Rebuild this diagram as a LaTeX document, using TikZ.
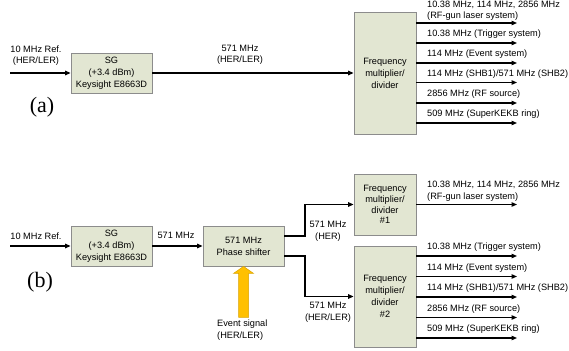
\documentclass[tikz,border=0pt]{standalone}
\usepackage{fontspec}
\setmainfont{Liberation Sans}
\newfontfamily\serifl{Liberation Serif}
\usetikzlibrary{arrows.meta,calc,positioning}
\definecolor{boxfill}{HTML}{E2E6D2}
\definecolor{boxdraw}{HTML}{8C8C8C}
\definecolor{evtfill}{HTML}{FFC000}
\definecolor{evtdraw}{HTML}{D9A300}
\tikzset{
  blk/.style={draw=boxdraw, fill=boxfill, line width=0.8pt, inner sep=0pt, align=center,
    font=\fontsize{9.2}{12}\selectfont},
  sig/.style={line width=1.2pt, -{Triangle[length=5.5pt,width=4.5pt]}},
  wire/.style={line width=1.2pt},
  lbl/.style={inner sep=0pt, align=center, font=\fontsize{9.2}{11.5}\selectfont},
  olbl/.style={inner sep=0pt, anchor=west, align=left, font=\fontsize{9.2}{11.5}\selectfont},
  tag/.style={inner sep=0pt, font=\serifl\fontsize{22}{24}\selectfont},
  evt/.style={draw=evtdraw, fill=evtfill, line width=0.5pt}
}
\begin{document}
\begin{tikzpicture}[x=1pt,y=-1pt]
\useasboundingbox (0,0) rectangle (569,350);
% ---------- (a) ----------
\node[blk, minimum width=81pt, minimum height=40pt] (sgA) at (111.5,73) {SG\\(+3.4 dBm)\\Keysight E8663D};
\node[blk, minimum width=62pt, minimum height=122pt] (fA) at (385,73) {Frequency\\multiplier/\\divider};
\coordinate (inA) at (10,73);
\draw[sig] (inA) -- (sgA.west);
\draw[sig] (sgA.east) -- (fA.west);
\node[lbl] (lrefA) at (36,55.5) {10 MHz Ref.\\(HER/LER)};
\node[lbl] (l571A) at (240,55) {571 MHz\\(HER/LER)};
\node[tag] (tagA) at (42,107) {(a)};
\foreach \yy/\nm in {23/oa1,43/oa2,63/oa3,82.5/oa4,103/oa5,123/oa6}{
  \coordinate (\nm s) at (fA.east |- 0,\yy);
  \coordinate (\nm e) at (517,\yy);
  \draw[sig] (\nm s) -- (\nm e);
}
\node[olbl] (ta1) at (427,10.5) {10.38 MHz, 114 MHz, 2856 MHz\\(RF-gun laser system)};
\node[olbl] (ta2) at (427,34.5) {10.38 MHz (Trigger system)};
\node[olbl] (ta3) at (427,54.5) {114 MHz (Event system)};
\node[olbl] (ta4) at (427,74.5) {114 MHz (SHB1)/571 MHz (SHB2)};
\node[olbl] (ta5) at (427,94.5) {2856 MHz (RF source)};
\node[olbl] (ta6) at (427,114.5) {509 MHz (SuperKEKB ring)};
% ---------- (b) ----------
\node[blk, minimum width=81pt, minimum height=40pt] (sgB) at (111.5,246) {SG\\(+3.4 dBm)\\Keysight E8663D};
\node[blk, minimum width=81pt, minimum height=40pt] (ps) at (243.5,246) {571 MHz\\Phase shifter};
\node[blk, minimum width=62pt, minimum height=61pt, font=\fontsize{9.2}{10.8}\selectfont] (f1) at (385,204.5) {Frequency\\multiplier/\\divider\\\#1};
\node[blk, minimum width=62pt, minimum height=101pt] (f2) at (385,296.5) {Frequency\\multiplier/\\divider\\\#2};
\coordinate (inB) at (10,246);
\draw[sig] (inB) -- (sgB.west);
\draw[sig] (sgB.east) -- (ps.west);
\node[lbl] (lrefB) at (36,236) {10 MHz Ref.};
\node[lbl] (l571B) at (176,235.5) {571 MHz};
\node[tag] (tagB) at (40,282) {(b)};
\coordinate (psA) at (ps.east |- 0,236);
\coordinate (psB) at (ps.east |- 0,256);
\draw[sig] (psA) -- (305,236) |- (f1.west);
\draw[sig] (psB) -- (305,256) |- (f2.west);
\node[lbl] (lher) at (328,231.5) {571 MHz\\(HER)};
\node[lbl] (lherler) at (328,312.5) {571 MHz\\(HER/LER)};
\coordinate (o1s) at (f1.east);
\coordinate (o1e) at (517,204.5);
\draw[sig] (o1s) -- (o1e);
\node[olbl] (tb1) at (427,191) {10.38 MHz, 114 MHz, 2856 MHz\\(RF-gun laser system)};
\foreach \yy/\nm in {256/ob1,276.5/ob2,297/ob3,317.5/ob4,338/ob5}{
  \coordinate (\nm s) at (f2.east |- 0,\yy);
  \coordinate (\nm e) at (517,\yy);
  \draw[sig] (\nm s) -- (\nm e);
}
\node[olbl] (tb2) at (427,247.5) {10.38 MHz (Trigger system)};
\node[olbl] (tb3) at (427,268) {114 MHz (Event system)};
\node[olbl] (tb4) at (427,288.5) {114 MHz (SHB1)/571 MHz (SHB2)};
\node[olbl] (tb5) at (427,309) {2856 MHz (RF source)};
\node[olbl] (tb6) at (427,329.5) {509 MHz (SuperKEKB ring)};
% event arrow
\coordinate (tip) at (ps.south);
\draw[evt] (tip) -- ++(10,7) -- ++(-5,0) -- ++(0,44) -- ++(-10,0) -- ++(0,-44) -- ++(-5,0) -- cycle;
\node[olbl] (levt) at (217,330) {Event signal\\(HER/LER)};
\end{tikzpicture}
\end{document}
